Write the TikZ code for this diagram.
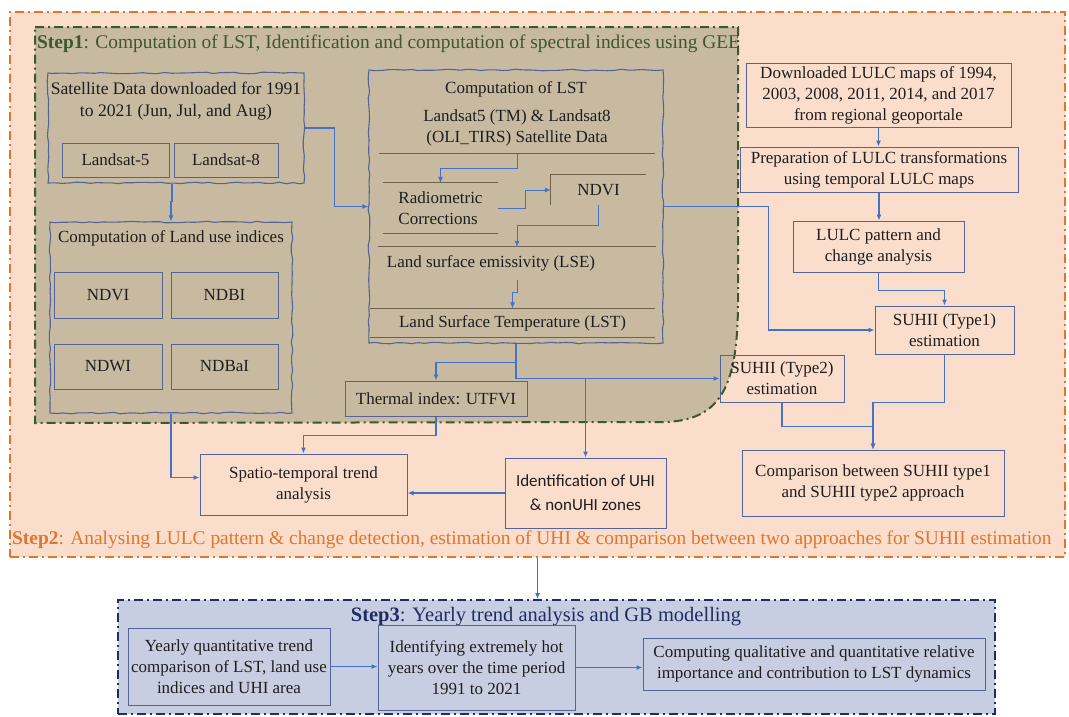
\documentclass[tikz,border=0pt]{standalone}
\usepackage{fontspec}
\setmainfont{Liberation Serif}
\newfontfamily\carlitofont{Carlito}
\usetikzlibrary{arrows.meta}
\usetikzlibrary{decorations.pathmorphing}

\newcommand{\boxfont}{\fontsize{17}{21}\selectfont}
\newcommand{\titlefont}{\fontsize{19.4}{23}\selectfont}
\newcommand{\stepthreefont}{\fontsize{20.5}{24}\selectfont}

\begin{document}
\begin{tikzpicture}[x=1pt,y=-1pt,
  box/.style={draw=boxblue, line width=1pt, align=center, text=textgray, font=\boxfont, inner sep=1pt},
  sketchbox/.style={draw=boxblue, line width=1.1pt, inner sep=0pt, decorate,
    decoration={random steps,segment length=7pt,amplitude=0.8pt}},
  textnode/.style={align=center, text=textgray, font=\boxfont, inner sep=1pt},
  arr/.style={-{Latex[length=6pt,width=5pt]}, draw=arrowblue, line width=1.1pt},
  sepline/.style={draw=sepbrown, line width=1pt},
  stepframe/.style={line width=2pt, dash pattern=on 9pt off 4pt on 2pt off 4pt},
]

\definecolor{peachfill}{RGB}{251,221,204}
\definecolor{step2orange}{RGB}{222,118,45}
\definecolor{step1fill}{RGB}{199,186,160}
\definecolor{step1green}{RGB}{62,88,45}
\definecolor{step3fill}{RGB}{200,206,225}
\definecolor{step3navy}{RGB}{30,45,100}
\definecolor{boxblue}{RGB}{85,100,150}
\definecolor{arrowblue}{RGB}{68,114,196}
\definecolor{sepbrown}{RGB}{110,98,78}
\definecolor{textgray}{RGB}{30,30,30}

\pgfmathsetseed{7}
\useasboundingbox (0,0) rectangle (1069,716);

% DRAW THE STEP FRAMES
\node[stepframe, draw=step2orange, fill=peachfill, minimum width=1055, minimum height=545, inner sep=0pt] (step2Frame) at (537.5,284.5) {};
\filldraw[stepframe, draw=step1green, fill=step1fill] (35,27) -- (738,27) -- (738,300)
  .. controls (738,385) and (722,420) .. (665,422) -- (35,423) -- cycle;
\node[stepframe, draw=step3navy, fill=step3fill, minimum width=877, minimum height=114, inner sep=0pt] (step3Frame) at (556.5,657) {};

\node[anchor=base west, inner sep=0pt, text=step1green, font=\titlefont] (step1Title) at (37,48)
  {\textbf{Step1}: Computation of LST, Identification and computation of spectral indices using GEE};
\node[anchor=base west, inner sep=0pt, text=step2orange, font=\titlefont] (step2Title) at (12,544)
  {\textbf{Step2}: Analysing LULC pattern \& change detection, estimation of UHI \& comparison between two approaches for SUHII estimation};
\node[inner sep=0pt, text=step3navy, font=\stepthreefont] (step3Title) at (546,617)
  {\textbf{Step3}: Yearly trend analysis and GB modelling};

% DRAW THE SATELLITE DATA BOX
\node[sketchbox, minimum width=256, minimum height=110] (satBox) at (176,128) {};
\node[textnode, font=\fontsize{17.6}{21.5}\selectfont] (satText) at (176,101) {Satellite Data downloaded for 1991\\to 2021 (Jun, Jul, and Aug)};
\node[box, minimum width=107, minimum height=34] (landsat5) at (115.5,160) {Landsat-5};
\node[box, minimum width=104, minimum height=34] (landsat8) at (226,160) {Landsat-8};

% DRAW THE LAND USE INDICES BOX
\node[sketchbox, minimum width=242, minimum height=191] (luBox) at (171,317.5) {};
\node[textnode] (luText) at (171,238) {Computation of Land use indices};
\node[box, minimum width=108, minimum height=46] (ndviBox) at (108,295) {NDVI};
\node[box, minimum width=107, minimum height=46] (ndbiBox) at (224.5,295) {NDBI};
\node[box, minimum width=108, minimum height=45] (ndwiBox) at (108,366.5) {NDWI};
\node[box, minimum width=107, minimum height=45] (ndbaiBox) at (224.5,366.5) {NDBaI};

% DRAW THE LST BOX
\node[sketchbox, minimum width=294, minimum height=273] (lstBox) at (516,206.5) {};
\node[textnode] (lstText) at (516,89) {Computation of LST};
\node[textnode, minimum width=276, minimum height=50] (landsatNode) at (517,128) {Landsat5 (TM) \& Landsat8\\(OLI\_TIRS) Satellite Data};
\draw[sepline] (landsatNode.south west) -- (landsatNode.south east);
\node[textnode, align=left, minimum width=115, minimum height=50] (radioNode) at (440.5,208) {Radiometric\\Corrections};
\draw[sepline] (radioNode.north west) -- (radioNode.north east);
\draw[sepline] (radioNode.south west) -- (radioNode.south east);
\node[textnode, minimum width=95, minimum height=30] (ndviInner) at (598.5,190) {NDVI};
\draw[sepline, line width=1.3pt] (ndviInner.south west) -- (ndviInner.north west) -- (ndviInner.north east);
\node[textnode, minimum width=278, minimum height=33] (lseNode) at (517,263.5) {Land surface emissivity (LSE)\hspace*{52pt}};
\draw[sepline] (lseNode.north west) -- (lseNode.north east);
\node[textnode, minimum width=285, minimum height=29] (lstNode) at (512.5,323) {Land Surface Temperature (LST)};
\draw[sepline] (lstNode.north west) -- (lstNode.north east);
\draw[sepline] (lstNode.south west) -- (lstNode.south east);

\draw[arr, line width=0.7pt] (landsatNode.south) -- ++(0,15) -| (radioNode.north);
\draw[arr, line width=0.7pt] (radioNode.east) -- ++(27,0) |- (ndviInner.west);
\draw[arr, line width=0.7pt] (ndviInner.south) -- ++(0,20) -| (lseNode.north);
\draw[arr, line width=0.7pt] (lseNode.south) -- ++(0,12) -| (lstNode.north);

% DRAW THE LULC COLUMN
\node[box, minimum width=265, minimum height=64] (dlBox) at (878.5,95) {Downloaded LULC maps of 1994,\\2003, 2008, 2011, 2014, and 2017\\from regional geoportale};
\node[box, minimum width=278, minimum height=45] (prepBox) at (879,169.5) {Preparation of LULC transformations\\using temporal LULC maps};
\node[box, minimum width=171, minimum height=51] (patBox) at (878.5,246.5) {LULC pattern and\\change analysis};
\node[box, minimum width=139, minimum height=48] (suhi1Box) at (944.5,330) {SUHII (Type1)\\estimation};
\node[box, minimum width=124, minimum height=47] (suhi2Box) at (782,378.5) {SUHII (Type2)\\estimation};
\node[box, minimum width=262, minimum height=66] (cmpBox) at (873,483) {Comparison between SUHII type1\\and SUHII type2 approach};

% DRAW THE LOWER STEP2 BOXES
\node[box, minimum width=182, minimum height=35] (utfviBox) at (436,398.5) {Thermal index: UTFVI};
\node[box, minimum width=161, minimum height=70, font=\carlitofont\fontsize{17}{24}\selectfont] (idBox) at (585.5,493) {Identification of UHI\\\& nonUHI zones};
\node[box, minimum width=207, minimum height=61] (spBox) at (303.5,484.5) {Spatio-temporal trend\\analysis};

% DRAW THE STEP3 BOXES
\node[box, minimum width=202, minimum height=77] (yearBox) at (229,666.5) {Yearly quantitative trend\\comparison of LST, land use\\indices and UHI area};
\node[box, minimum width=197, minimum height=85] (hotBox) at (476.5,667.5) {Identifying extremely hot\\years over the time period\\1991 to 2021};
\node[box, minimum width=342, minimum height=52] (compBox) at (814,664) {Computing qualitative and quantitative relative\\importance and contribution to LST dynamics};

% DRAW THE CONNECTORS
\draw[arr] ([xshift=-4pt]satBox.south) -- ++(0,18) -| (luBox.north);
\draw[arr] (satBox.east) -- ++(30,0) |- (lstBox.west);
\draw[arr] (dlBox.south) -- (dlBox.south |- prepBox.north);
\draw[arr] (prepBox.south) -- (prepBox.south |- patBox.north);
\draw[arr] (patBox.south) -- ++(0,18) -| (suhi1Box.north);
\draw[arr] (lstBox.east) -- ++(105,0) |- (suhi1Box.west);
\draw[arr] (lstBox.south) -- ++(0,19) -| (utfviBox.north);
\draw[arr] (lstBox.south) |- (suhi2Box.west);
\draw[arr] (suhi2Box.west -| idBox.north) -- (idBox.north);
\draw[arr] (idBox.west) -- (idBox.west -| spBox.east);
\draw[arr] (utfviBox.south) -- ++(0,19) -| (spBox.north);
\draw[arr] (luBox.south) |- ([yshift=7pt]spBox.west);
\draw[arr] (suhi2Box.south) -- ++(0,24) -| (cmpBox.north);
\draw[arr] (suhi1Box.south) -- ++(0,48) -| (cmpBox.north);
\draw[arr] (step2Frame.south) -- (step2Frame.south |- step3Frame.north);
\draw[arr] (yearBox.east) -- (yearBox.east -| hotBox.west);
\draw[arr] (hotBox.east) -- (hotBox.east -| compBox.west);

\end{tikzpicture}
\end{document}
